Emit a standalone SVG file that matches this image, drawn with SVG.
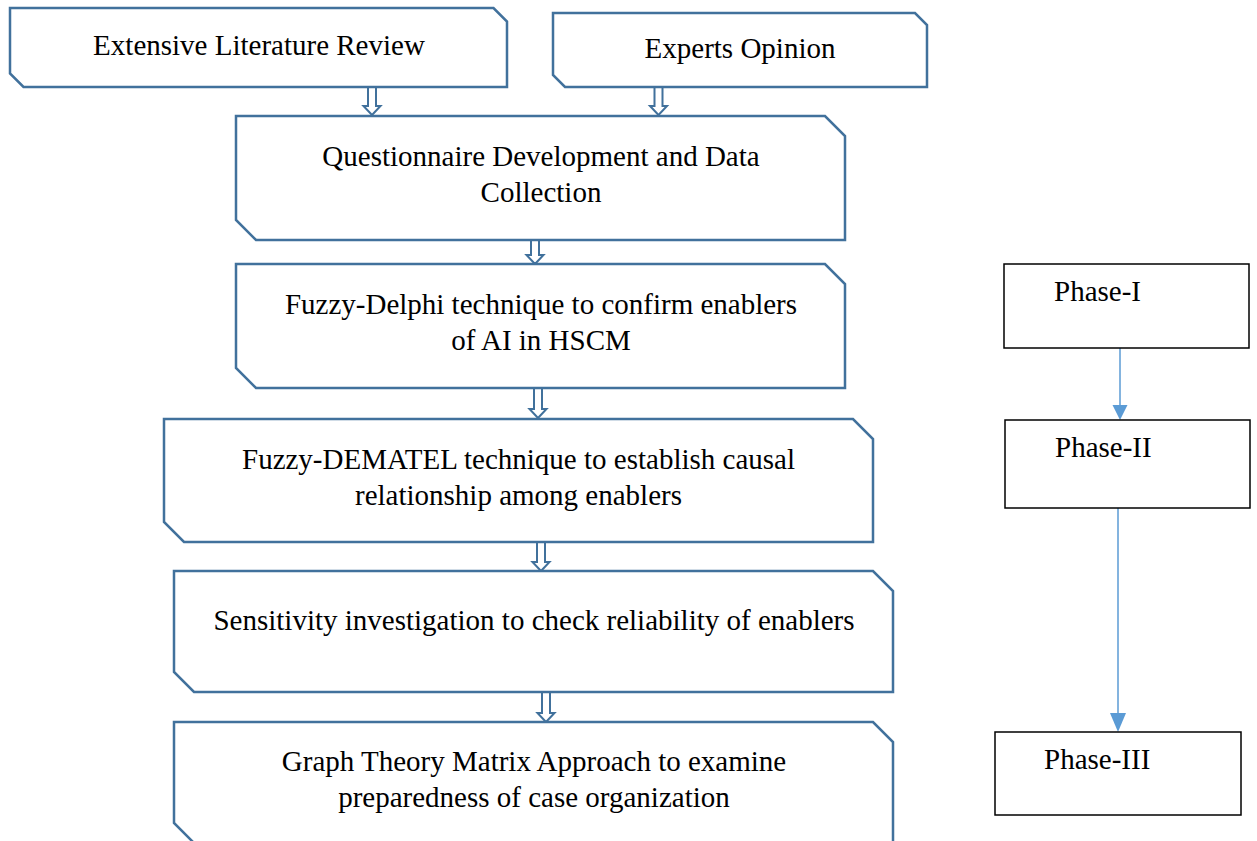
<svg xmlns="http://www.w3.org/2000/svg" width="1257" height="841" viewBox="0 0 1257 841">
<style>
.box{fill:#fff;stroke:#41719C;stroke-width:2.5;stroke-linejoin:miter}
.harrow{fill:#fff;stroke:#41719C;stroke-width:2}
.phase{fill:#fff;stroke:#000;stroke-width:1.5}
.t{font-family:"Liberation Serif","Times New Roman",serif;font-size:29px;fill:#000}
.c{text-anchor:middle}
.link{stroke:#5B9BD5;stroke-width:1.5;fill:none}
</style>
<defs>
<marker id="tri" markerWidth="10" markerHeight="10" refX="10" refY="5" orient="auto" markerUnits="userSpaceOnUse" viewBox="0 0 10 10">
<path d="M0,0 L10,5 L0,10 Z" fill="#5B9BD5"/>
</marker>
</defs>
<rect width="1257" height="841" fill="#fff"/>
<g id="connectors">
<path class="harrow" d="M368,87 L368,106 L363.5,106 L372,115 L380.5,106 L376,106 L376,87 Z"/>
<path class="harrow" d="M654.5,87 L654.5,106 L650,106 L658.5,115 L667,106 L662.5,106 L662.5,87 Z"/>
<path class="harrow" d="M531,240 L531,255 L526.5,255 L535,264 L543.5,255 L539,255 L539,240 Z"/>
<path class="harrow" d="M534,388 L534,409 L529.5,409 L538,418 L546.5,409 L542,409 L542,388 Z"/>
<path class="harrow" d="M537,542 L537,562 L532.5,562 L541,571 L549.5,562 L545,562 L545,542 Z"/>
<path class="harrow" d="M542,692 L542,713 L537.5,713 L546,722 L554.5,713 L550,713 L550,692 Z"/>
<path class="link" d="M1120,348 L1120,405"/>
<path d="M1112.5,405 L1127.5,405 L1120,420 Z" fill="#5B9BD5"/>
<path class="link" d="M1118,508 L1118,713"/>
<path d="M1110,713 L1126,713 L1118,732 Z" fill="#5B9BD5"/>
</g>
<g id="n1">
<polygon class="box" points="10,8 493.5,8 507,21.5 507,87 23.5,87 10,73.5"/>
<text class="t c" x="259" y="55">Extensive Literature Review</text>
</g>
<g id="n2">
<polygon class="box" points="553,13 915,13 927,25 927,87 565,87 553,75"/>
<text class="t c" x="740" y="58">Experts Opinion</text>
</g>
<g id="n3">
<polygon class="box" points="236,116 825,116 845,136 845,240 256,240 236,220"/>
<text class="t c" x="541" y="166">Questionnaire Development and Data</text>
<text class="t c" x="541" y="202">Collection</text>
</g>
<g id="n4">
<polygon class="box" points="236,264 825,264 845,284 845,388 256,388 236,368"/>
<text class="t c" x="541" y="314">Fuzzy-Delphi technique to confirm enablers</text>
<text class="t c" x="541" y="350">of AI in HSCM</text>
</g>
<g id="n5">
<polygon class="box" points="164,419 853,419 873,439 873,542 184,542 164,522"/>
<text class="t c" x="518.5" y="469">Fuzzy-DEMATEL technique to establish causal</text>
<text class="t c" x="518.5" y="505">relationship among enablers</text>
</g>
<g id="n6">
<polygon class="box" points="174,571 873,571 893,591 893,692 194,692 174,672"/>
<text class="t c" x="534" y="630">Sensitivity investigation to check reliability of enablers</text>
</g>
<g id="n7">
<polygon class="box" points="174,722 873,722 893,742 893,843 194,843 174,823"/>
<text class="t c" x="534" y="771">Graph Theory Matrix Approach to examine</text>
<text class="t c" x="534" y="807">preparedness of case organization</text>
</g>
<g id="p1">
<rect class="phase" x="1004" y="264" width="245" height="84"/>
<text class="t" x="1054" y="301">Phase-I</text>
</g>
<g id="p2">
<rect class="phase" x="1005" y="420" width="245" height="88"/>
<text class="t" x="1055" y="457">Phase-II</text>
</g>
<g id="p3">
<rect class="phase" x="995" y="732" width="246" height="83"/>
<text class="t" x="1044" y="769">Phase-III</text>
</g>
</svg>
